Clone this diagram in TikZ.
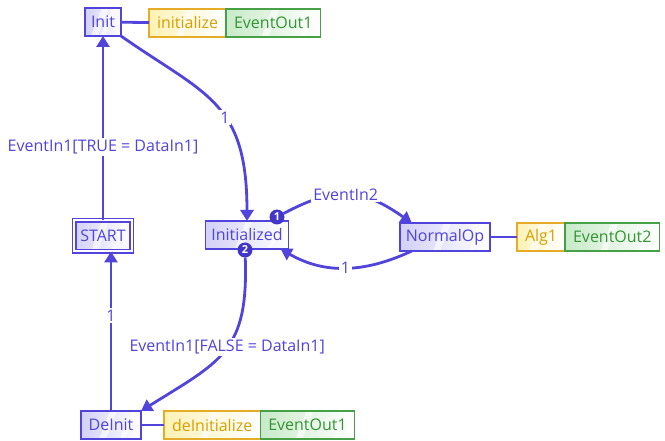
\documentclass[tikz,border=0pt]{standalone}
\usepackage{fontspec}
\setmainfont{Open Sans}
\usetikzlibrary{arrows.meta,positioning}
\definecolor{ecblue}{RGB}{80,68,220}
\definecolor{ecbadge}{RGB}{66,54,200}
\definecolor{ecfill}{RGB}{210,208,246}
\definecolor{algline}{RGB}{228,172,40}
\definecolor{algtext}{RGB}{214,160,0}
\definecolor{algfill}{RGB}{255,242,180}
\definecolor{evline}{RGB}{70,160,70}
\definecolor{evtext}{RGB}{50,150,50}
\definecolor{evfill}{RGB}{200,234,200}
\begin{document}
\begin{tikzpicture}[x=1pt,y=-1pt,
  every node/.style={font=\fontsize{16}{18}\selectfont,outer sep=0pt},
  gloss/.style={path picture={
    \fill[white,opacity=0.6] ([xshift=-1pt]path picture bounding box.north) -- ++(7pt,0)
      -- ([xshift=-5pt]path picture bounding box.south) -- ++(-7pt,0) -- cycle;
    \fill[white,opacity=0.6] ([xshift=-9pt]path picture bounding box.north east) -- ++(5pt,0)
      -- ([xshift=-16pt]path picture bounding box.south east) -- ++(-5pt,0) -- cycle;}},
  state/.style={draw=ecblue,line width=1.5pt,text=ecblue,left color=ecfill,right color=white,
    gloss,minimum height=28pt,inner xsep=6pt},
  startstate/.style={state,double=white,double distance=2pt,line width=1.2pt,
    minimum width=57pt,minimum height=31pt},
  alg/.style={draw=algline,line width=1.5pt,text=algtext,left color=algfill,right color=white,
    gloss,minimum height=28pt,inner xsep=8pt},
  evout/.style={draw=evline,line width=1.5pt,text=evtext,left color=evfill,right color=white,
    gloss,minimum height=28pt,inner xsep=8pt},
  badge/.style={circle,fill=ecbadge,text=white,inner sep=0pt,minimum size=15pt,
    font=\fontsize{11}{11}\selectfont\bfseries},
  trans/.style={draw=ecblue,line width=2.8pt,-{Triangle[length=11pt,width=13pt]}},
  tlabel/.style={fill=white,text=ecblue,inner sep=2pt},
  assoc/.style={draw=ecblue,line width=2.8pt}]
  \useasboundingbox (0,0) rectangle (665,441);
  % states
  \node[state] (init) at (103,22) {Init};
  \node[startstate] (start) at (103,236) {START};
  \node[state] (initd) at (247,235) {Initialized};
  \node[state] (normal) at (445,237) {NormalOp};
  \node[state,minimum width=60pt] (deinit) at (111,425) {DeInit};
  % actions
  \node[alg,anchor=west] (initalg) at (149,23) {initialize};
  \node[evout,right=0pt of initalg] (initout) {EventOut1};
  \node[alg,anchor=west] (opalg) at (517,237) {Alg1};
  \node[evout,right=0pt of opalg] (opout) {EventOut2};
  \node[alg,anchor=west] (deinitalg) at (164,425) {deInitialize};
  \node[evout,right=0pt of deinitalg] (deinitout) {EventOut1};
  \draw[assoc] (init) -- (initalg);
  \draw[assoc] (normal) -- (opalg);
  \draw[assoc] (deinit) -- (deinitalg);
  % transitions
  \draw[trans] (start) -- node[tlabel,pos=0.4] {EventIn1[TRUE = DataIn1]} (init);
  \draw[trans] (init.south east) to[out=-35,in=90,out distance=103pt,in distance=120pt]
    node[tlabel,pos=0.58] {1} (initd.north);
  \node[badge] (b1) at (277,217) {1};
  \node[badge] (b2) at (245,250) {2};
  \draw[trans] (b1) to[out=28,in=145,looseness=1.2]
    node[tlabel,pos=0.47] {EventIn2} ([xshift=12pt]normal.north west);
  \draw[trans] ([xshift=12pt]normal.south west) to[out=-155,in=-30]
    node[tlabel,pos=0.5] {1} ([xshift=-8pt]initd.south east);
  \draw[trans] (b2) to[out=-88,in=32,looseness=1.3]
    node[tlabel,pos=0.47] {EventIn1[FALSE = DataIn1]} (deinit.north east);
  \draw[trans] (deinit.north) -- node[tlabel,pos=0.6] {1} (deinit.north |- start.south);
\end{tikzpicture}
\end{document}
